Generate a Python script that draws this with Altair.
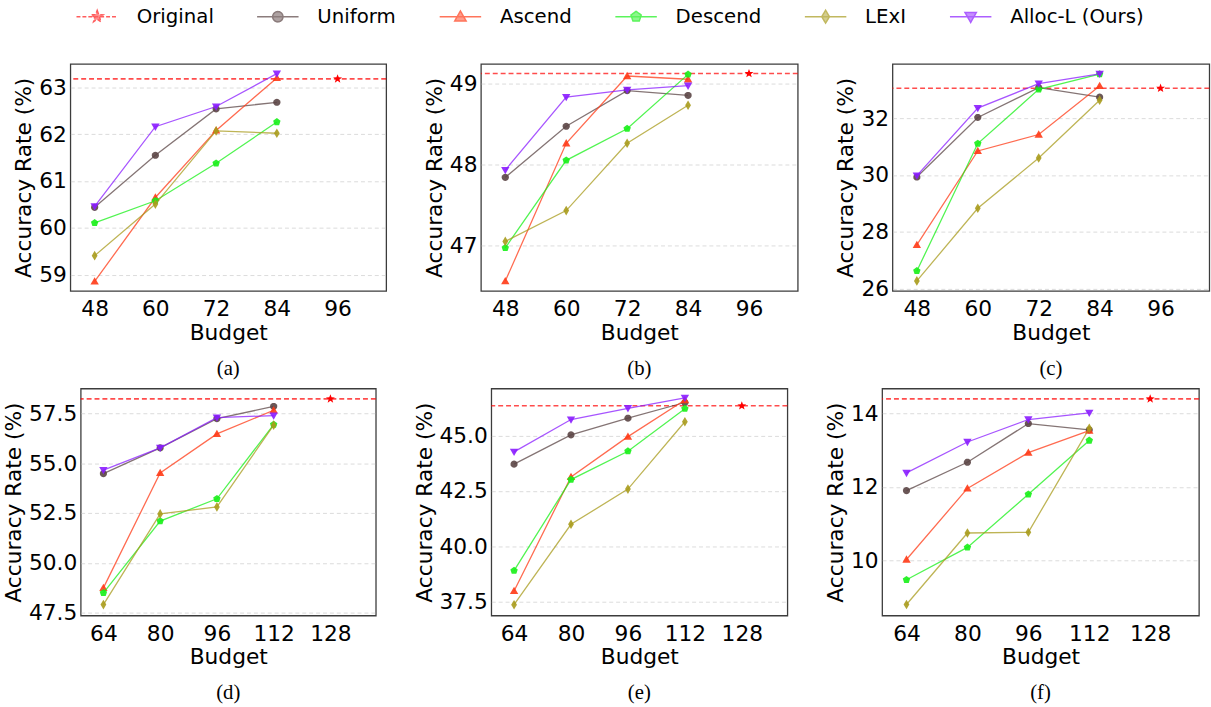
import math
import altair as alt
import pandas as pd

# ---------------- data ----------------
SERIES = ["Uniform", "Ascend", "Descend", "LExI", "Alloc-L (Ours)"]
LEGEND_ORDER = ["Original"] + SERIES
COLORS = ["#ff1a1a", "#5b4545", "#ff3a16", "#17f017", "#a89b1c", "#8a1cff"]

BUDGETS_TOP = [48, 60, 72, 84]
BUDGETS_BOTTOM = [64, 80, 96, 112]
TICKS_TOP = [48, 60, 72, 84, 96]
TICKS_BOTTOM = [64, 80, 96, 112, 128]

A_UNIFORM = [60.44, 61.55, 62.54, 62.68]
A_ASCEND = [58.86, 60.65, 62.08, 63.20]
A_DESCEND = [60.11, 60.58, 61.38, 62.26]
A_LEXI = [59.41, 60.51, 62.07, 62.02]
A_ALLOC = [60.46, 62.16, 62.59, 63.29]
A_ORIGINAL = 63.18

B_UNIFORM = [47.84, 48.47, 48.91, 48.85]
B_ASCEND = [46.56, 48.26, 49.09, 49.05]
B_DESCEND = [46.97, 48.05, 48.44, 49.11]
B_LEXI = [47.05, 47.43, 48.26, 48.73]
B_ALLOC = [47.93, 48.83, 48.92, 48.97]
B_ORIGINAL = 49.12

C_UNIFORM = [29.93, 32.03, 33.08, 32.75]
C_ASCEND = [27.54, 30.85, 31.43, 33.14]
C_DESCEND = [26.62, 31.11, 33.02, 33.56]
C_LEXI = [26.27, 28.83, 30.60, 32.64]
C_ALLOC = [29.98, 32.36, 33.22, 33.57]
C_ORIGINAL = 33.06

D_UNIFORM = [54.48, 55.78, 57.25, 57.86]
D_ASCEND = [48.74, 54.52, 56.48, 57.67]
D_DESCEND = [48.49, 52.10, 53.22, 56.95]
D_LEXI = [47.90, 52.46, 52.81, 56.92]
D_ALLOC = [54.66, 55.78, 57.30, 57.40]
D_ORIGINAL = 58.24

E_UNIFORM = [43.72, 45.04, 45.79, 46.50]
E_ASCEND = [37.99, 43.14, 44.96, 46.61]
E_DESCEND = [38.91, 43.02, 44.30, 46.22]
E_LEXI = [37.37, 41.00, 42.59, 45.63]
E_ALLOC = [44.27, 45.73, 46.24, 46.71]
E_ORIGINAL = 46.35

F_UNIFORM = [11.90, 12.67, 13.72, 13.55]
F_ASCEND = [10.03, 11.96, 12.93, 13.53]
F_DESCEND = [9.48, 10.36, 11.80, 13.26]
F_LEXI = [8.81, 10.75, 10.77, 13.59]
F_ALLOC = [12.38, 13.22, 13.83, 14.01]
F_ORIGINAL = 14.39

Y_TICKS_A = [59, 60, 61, 62, 63]
Y_TICKS_B = [47, 48, 49]
Y_TICKS_C = [26, 28, 30, 32]
Y_TICKS_D = [47.5, 50.0, 52.5, 55.0, 57.5]
Y_TICKS_E = [37.5, 40.0, 42.5, 45.0]
Y_TICKS_F = [10, 12, 14]


# ---------------- marker shapes ----------------
def fmt(v):
    return f"{v:.3f}"


def star_path(R, r):
    pts = []
    for k in range(10):
        ang = math.radians(-90 + 36 * k)
        rad = R if k % 2 == 0 else r
        pts.append((rad * math.cos(ang), rad * math.sin(ang)))
    return "M" + "L".join(f"{fmt(x)},{fmt(y)}" for x, y in pts) + "Z"


def poly_path(R, n, start=-90):
    pts = []
    for k in range(n):
        ang = math.radians(start + 360 / n * k)
        pts.append((R * math.cos(ang), R * math.sin(ang)))
    return "M" + "L".join(f"{fmt(x)},{fmt(y)}" for x, y in pts) + "Z"


def circle_path(r):
    return poly_path(r, 20)


def tri_up(r):
    return f"M0,{fmt(-r)}L{fmt(r)},{fmt(0.75 * r)}L{fmt(-r)},{fmt(0.75 * r)}Z"


def tri_down(r):
    return f"M0,{fmt(r)}L{fmt(r)},{fmt(-0.75 * r)}L{fmt(-r)},{fmt(-0.75 * r)}Z"


def thin_diamond(r):
    return f"M0,{fmt(-r)}L{fmt(0.6 * r)},0L0,{fmt(r)}L{fmt(-0.6 * r)},0Z"


PLOT_SHAPES = {
    "Uniform": circle_path(1),
    "Ascend": tri_up(1),
    "Descend": poly_path(1, 5),
    "LExI": thin_diamond(1),
    "Alloc-L (Ours)": tri_down(1),
}
PLOT_SIZES = {"Uniform": 52, "Ascend": 72, "Descend": 62, "LExI": 95, "Alloc-L (Ours)": 72}
STAR = star_path(1, 0.42)

LINE = "M-2,0L2,0"
LEG_SHAPES = [
    LINE + star_path(0.6, 0.25),
    LINE + circle_path(0.5),
    LINE + tri_up(0.55),
    LINE + poly_path(0.52, 5),
    LINE + thin_diamond(0.62),
    LINE + tri_down(0.55),
]
LEG_DASH = [[4, 2], [1, 0], [1, 0], [1, 0], [1, 0], [1, 0]]

FONT = "DejaVu Sans"


def panel(label, budgets, ticks, xdom, values, original, ydom, yticks, yfmt, width, yext,
          legend=False):
    rows = []
    for s, vals in zip(SERIES, values):
        for b, v in zip(budgets, vals):
            rows.append({"series": s, "budget": b, "acc": v})
    df = pd.DataFrame(rows)

    x = alt.X("budget:Q",
              scale=alt.Scale(domain=xdom, nice=False, zero=False),
              axis=alt.Axis(values=ticks, title="Budget", grid=False, format="d"))
    y = alt.Y("acc:Q",
              scale=alt.Scale(domain=ydom, nice=False, zero=False),
              axis=alt.Axis(values=yticks, title="Accuracy Rate (%)", format=yfmt,
                            minExtent=yext, maxExtent=yext))

    orig_df = pd.DataFrame({"budget": [ticks[-1]], "acc": [original]})
    layers = [
        alt.Chart(orig_df).mark_rule(color="#ff0000", strokeDash=[5, 3], strokeWidth=1.6,
                                     opacity=0.7).encode(y=y),
        alt.Chart(orig_df).mark_point(shape=STAR, filled=True, size=90, color="#ff0000",
                                      opacity=1).encode(x=x, y=y),
    ]
    base = alt.Chart(df)
    for s, c in zip(SERIES, COLORS[1:]):
        sub = base.transform_filter(alt.datum.series == s)
        layers.append(sub.mark_line(color=c, strokeWidth=1.3, opacity=0.75).encode(x=x, y=y))
        layers.append(sub.mark_point(shape=PLOT_SHAPES[s], filled=True, size=PLOT_SIZES[s],
                                     color=c, opacity=0.9).encode(x=x, y=y))

    if legend:
        leg = alt.Legend(title=None, orient="none", legendX=16, legendY=-59.5,
                         direction="horizontal", labelFont=FONT, labelFontSize=20,
                         labelColor="black", labelOffset=28.5, columnPadding=40,
                         symbolSize=441, symbolStrokeWidth=1.5, padding=0)
        leg_df = pd.DataFrame({"series": LEGEND_ORDER,
                               "budget": [0] * len(LEGEND_ORDER),
                               "acc": [ydom[0] + 0.5] * len(LEGEND_ORDER)})
        layers.append(
            alt.Chart(leg_df).mark_point(filled=True, clip=True, strokeWidth=1.5).encode(
                x=x, y=y,
                shape=alt.Shape("series:N", scale=alt.Scale(domain=LEGEND_ORDER, range=LEG_SHAPES), legend=leg),
                fill=alt.Fill("series:N", scale=alt.Scale(domain=LEGEND_ORDER, range=COLORS), legend=leg),
                stroke=alt.Stroke("series:N", scale=alt.Scale(domain=LEGEND_ORDER, range=COLORS), legend=leg),
                strokeDash=alt.StrokeDash("series:N", scale=alt.Scale(domain=LEGEND_ORDER, range=LEG_DASH), legend=leg),
            )
        )

    return alt.layer(*layers).properties(
        width=width, height=230,
        title=alt.Title(label, orient="bottom", font="Liberation Serif", fontSize=21,
                        fontWeight="normal", color="black", offset=15, anchor="middle",
                        frame="group"),
    )


XT = [43.2, 105.6]
XB = [57.6, 140.8]
EXT_NARROW = 32
EXT_WIDE = 53

pa = panel("(a)", BUDGETS_TOP, TICKS_TOP, XT, [A_UNIFORM, A_ASCEND, A_DESCEND, A_LEXI, A_ALLOC],
           A_ORIGINAL, [58.66, 63.5], Y_TICKS_A, "d", 320, EXT_NARROW, legend=True)
pb = panel("(b)", BUDGETS_TOP, TICKS_TOP, XT, [B_UNIFORM, B_ASCEND, B_DESCEND, B_LEXI, B_ALLOC],
           B_ORIGINAL, [46.44, 49.24], Y_TICKS_B, "d", 321, EXT_NARROW)
pc = panel("(c)", BUDGETS_TOP, TICKS_TOP, XT, [C_UNIFORM, C_ASCEND, C_DESCEND, C_LEXI, C_ALLOC],
           C_ORIGINAL, [25.92, 33.92], Y_TICKS_C, "d", 321, EXT_NARROW)
pd_ = panel("(d)", BUDGETS_BOTTOM, TICKS_BOTTOM, XB, [D_UNIFORM, D_ASCEND, D_DESCEND, D_LEXI, D_ALLOC],
            D_ORIGINAL, [47.35, 58.76], Y_TICKS_D, ".1f", 299, EXT_WIDE)
pe = panel("(e)", BUDGETS_BOTTOM, TICKS_BOTTOM, XB, [E_UNIFORM, E_ASCEND, E_DESCEND, E_LEXI, E_ALLOC],
           E_ORIGINAL, [36.88, 47.13], Y_TICKS_E, ".1f", 300, EXT_WIDE)
pf = panel("(f)", BUDGETS_BOTTOM, TICKS_BOTTOM, XB, [F_UNIFORM, F_ASCEND, F_DESCEND, F_LEXI, F_ALLOC],
           F_ORIGINAL, [8.51, 14.67], Y_TICKS_F, "d", 321, EXT_NARROW)

row1 = alt.hconcat(pa, pb, pc, spacing=35).resolve_scale(x="independent", y="independent")
row2 = alt.hconcat(pd_, pe, pf, spacing=35).resolve_scale(x="independent", y="independent")

chart = (
    alt.vconcat(row1, row2, spacing=8, center=True)
    .resolve_scale(x="independent", y="independent")
    .properties(padding={"left": 2, "top": 0, "right": 0, "bottom": 0}, background="white")
    .configure_view(stroke="#3c3c3c", strokeWidth=1.3)
    .configure_axis(labelFont=FONT, titleFont=FONT, labelFontSize=22, titleFontSize=22,
                    titleFontWeight="normal", labelColor="black", titleColor="black",
                    tickSize=0, domain=False, gridColor="#c8c8c8", gridDash=[4, 3],
                    gridWidth=0.8, gridOpacity=0.8)
    .configure_axisX(labelPadding=8, titlePadding=3)
    .configure_axisY(labelPadding=4, titlePadding=3)
)

chart.save("out.html", embed_options={"renderer": "svg", "actions": False})
